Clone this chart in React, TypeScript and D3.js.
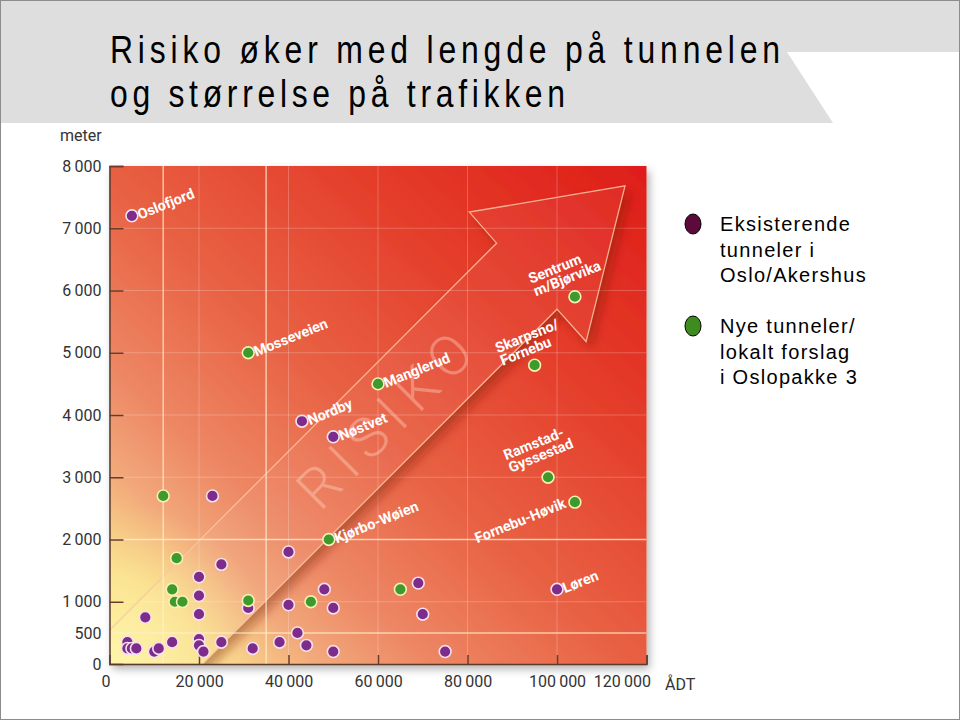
import { useEffect, useRef } from 'react'
import * as d3 from 'd3'

// ÅDT (vehicles/day) and tunnel length (m)
const xTicks = [0, 20000, 40000, 60000, 80000, 100000, 120000]
const yTicks = [0, 500, 1000, 2000, 3000, 4000, 5000, 6000, 7000, 8000]

const existingAdt = [5000, 43000, 50000, 100000, 23000, 25000, 40000, 20000, 20000, 20000, 8000, 31000, 40000, 48000, 50000, 69000, 70000, 42000, 4000, 4000, 5000, 6000, 10000, 11000, 14000, 20000, 20000, 21000, 25000, 32000, 38000, 44000, 50000, 75000]
const existingLength = [7200, 3900, 3650, 1200, 2700, 1600, 1800, 1400, 1100, 800, 750, 900, 950, 1200, 900, 1300, 800, 500, 350, 250, 250, 250, 200, 250, 350, 400, 300, 200, 350, 250, 350, 300, 200, 200]
const existingNames = ['Oslofjord', 'Nordby', 'Nøstvet', 'Løren']

const newAdt = [31000, 60000, 49000, 104000, 95000, 98000, 104000, 12000, 15000, 14000, 14600, 16300, 31000, 45000, 65000]
const newLength = [5000, 4500, 2000, 5900, 4800, 3000, 2600, 2700, 1700, 1200, 1000, 1000, 1020, 1000, 1200]
const newNames = ['Mosseveien', 'Manglerud', 'Kjørbo-Wøien', 'Sentrum\nm/Bjørvika', 'Skarpsno/\nFornebu', 'Ramstad-\nGyssestad', 'Fornebu-Høvik']

// risk arrow outline, in data units
const arrowAdt = [0, 20800, 100000, 106500, 115200, 80400, 86500, 0]
const arrowLength = [0, 0, 5700, 5180, 7680, 7260, 6760, 540]

const guideAdt = [12000, 35000]
const guideLength = [500, 2000]

const legendItems = [
  { color: '#5c0a3c', lines: ['Eksisterende', 'tunneler i', 'Oslo/Akershus'] },
  { color: '#3e8c1f', lines: ['Nye tunneler/', 'lokalt forslag', 'i Oslopakke 3'] }
]

// label placement relative to the point (pixels)
const labelPos: Record<string, { dx: number; dy: number; anchor?: string }> = {
  'Oslofjord': { dx: 8, dy: 4 },
  'Nordby': { dx: 8, dy: 4 },
  'Nøstvet': { dx: 8, dy: 4 },
  'Løren': { dx: 8, dy: 4 },
  'Mosseveien': { dx: 8, dy: 4 },
  'Manglerud': { dx: 8, dy: 4 },
  'Kjørbo-Wøien': { dx: 8, dy: 4 },
  'Fornebu-Høvik': { dx: -8, dy: 5, anchor: 'end' },
  'Sentrum\nm/Bjørvika': { dx: -44, dy: -13 },
  'Skarpsno/\nFornebu': { dx: -37, dy: -12 },
  'Ramstad-\nGyssestad': { dx: -42, dy: -17 }
}

const fmt = d3.formatLocale({ decimal: ',', thousands: '\u2009', grouping: [3], currency: ['', ''] }).format(',d')

const x = d3.scaleLinear().domain([0, 120000]).range([109.5, 646.5])
const y = d3.scaleLinear().domain([0, 8000]).range([664, 166])

export default function App() {
  const xAxisRef = useRef<SVGGElement>(null)
  const yAxisRef = useRef<SVGGElement>(null)

  useEffect(() => {
    if (!xAxisRef.current || !yAxisRef.current) return
    const tickFont = 'Roboto, "DejaVu Sans", sans-serif'

    const ya = d3.select(yAxisRef.current)
    ya.selectAll('*').remove()
    ya.attr('transform', `translate(${x(0)},0)`)
      .call(d3.axisLeft(y).tickValues(yTicks).tickFormat(d => fmt(+d)).tickSize(-14).tickPadding(8))
    ya.select('.domain').attr('stroke', '#5b3a2c').attr('stroke-width', 1.5)
    ya.selectAll('.tick line')
      .attr('stroke', '#6b3a2a')
      .attr('stroke-width', 1.5)
      .attr('opacity', d => (+d! % 1000 === 0 && +d! > 0 ? 1 : 0))
    ya.selectAll('.tick text')
      .style('font-family', tickFont)
      .style('font-size', '16px')
      .attr('fill', '#333')

    const xa = d3.select(xAxisRef.current)
    xa.selectAll('*').remove()
    xa.attr('transform', `translate(0,${y(0)})`)
      .call(d3.axisBottom(x).tickValues(xTicks).tickFormat(d => fmt(+d)).tickSize(-9).tickPadding(12))
    xa.select('.domain').attr('stroke', '#5b3a2c').attr('stroke-width', 1.5)
    xa.selectAll('.tick line')
      .attr('stroke', '#6b3a2a')
      .attr('stroke-width', 1.5)
      .attr('opacity', d => (+d! > 0 ? 1 : 0))
    xa.selectAll('.tick text')
      .style('font-family', tickFont)
      .style('font-size', '16px')
      .attr('fill', '#333')
      .attr('text-anchor', d => (+d! === 120000 ? 'end' : 'middle'))
      .attr('dx', d => (+d! === 120000 ? 4 : +d! === 0 ? -4 : 0))
  }, [])

  const x0 = x(0), x1 = x(120000), y0 = y(0), y1 = y(8000)
  const arrowPts = arrowAdt.map((a, i) => `${x(a)},${y(arrowLength[i])}`).join(' ')

  const existing = existingAdt.map((a, i) => ({ a, l: existingLength[i], name: existingNames[i] }))
  const added = newAdt.map((a, i) => ({ a, l: newLength[i], name: newNames[i] }))
  const labelled = [...existing, ...added].filter(d => d.name)

  const titleFont = "'Liberation Sans', Arial, sans-serif"

  return (
    <svg width={960} height={720} style={{ position: 'absolute', left: 0, top: 0, background: '#fff' }}
      fontFamily="'Liberation Sans', Arial, sans-serif">
      <defs>
        <linearGradient id="bg" x1="0" y1="1" x2="1" y2="0">
          <stop offset="0" stopColor="#fdf3a2" />
          <stop offset="0.1" stopColor="#f9d98b" />
          <stop offset="0.2" stopColor="#f2a87a" />
          <stop offset="0.3" stopColor="#ed8764" />
          <stop offset="0.48" stopColor="#e86244" />
          <stop offset="0.72" stopColor="#e43e2b" />
          <stop offset="1" stopColor="#df1d19" />
        </linearGradient>
        <radialGradient id="glow" cx={x0} cy={y0} r={165} gradientUnits="userSpaceOnUse">
          <stop offset="0" stopColor="#fff6a6" stopOpacity="1" />
          <stop offset="0.55" stopColor="#fbe794" stopOpacity="0.7" />
          <stop offset="1" stopColor="#f6c98a" stopOpacity="0" />
        </radialGradient>
        <clipPath id="plot">
          <rect x={x0} y={y1} width={x1 - x0} height={y0 - y1} />
        </clipPath>
        <mask id="outsideArrow">
          <rect x={0} y={0} width={960} height={720} fill="#fff" />
          <polygon points={arrowPts} fill="#000" />
        </mask>
        <filter id="blur" x="-20%" y="-20%" width="140%" height="140%">
          <feGaussianBlur stdDeviation="5" />
        </filter>
        <filter id="plotShadow" x="-5%" y="-5%" width="115%" height="115%">
          <feDropShadow dx="3" dy="5" stdDeviation="4" floodColor="#000" floodOpacity="0.3" />
        </filter>
      </defs>

      <rect x={0.5} y={0.5} width={959} height={719} fill="#fff" stroke="#8c8c8c" />
      <polygon points="1,1 959,1 959,52 787,52 833,123 1,123" fill="#dedede" />
      <g transform="translate(110,63) scale(0.84,1)">
        <text x={0} y={0} fontSize={38} textLength={670 / 0.84} lengthAdjust="spacing" fontFamily={titleFont} fill="#000">
          Risiko øker med lengde på tunnelen
        </text>
      </g>
      <g transform="translate(110,107) scale(0.84,1)">
        <text x={0} y={0} fontSize={38} textLength={455 / 0.84} lengthAdjust="spacing" fontFamily={titleFont} fill="#000">
          og størrelse på trafikken
        </text>
      </g>

      <text x={60} y={141} fontSize={16} fill="#333" fontFamily="Roboto, 'DejaVu Sans', sans-serif">meter</text>

      <rect x={x0} y={y1} width={x1 - x0} height={y0 - y1} fill="url(#bg)" filter="url(#plotShadow)" />
      <g clipPath="url(#plot)">
        <rect x={x0} y={y1} width={x1 - x0} height={y0 - y1} fill="url(#glow)" />

        {yTicks.filter(t => t % 1000 === 0 && t > 0 && t < 8000).map(t => (
          <line key={'gy' + t} x1={x0} x2={x1} y1={y(t)} y2={y(t)} stroke="#fff" strokeOpacity={0.22} />
        ))}
        {xTicks.filter(t => t > 0 && t < 120000).map(t => (
          <line key={'gx' + t} x1={x(t)} x2={x(t)} y1={y1} y2={y0} stroke="#fff" strokeOpacity={0.22} />
        ))}

        <g mask="url(#outsideArrow)">
          <polygon points={arrowPts} fill="#7a1408" fillOpacity={0.4} transform="translate(6,6)" filter="url(#blur)" />
        </g>
        <polygon points={arrowPts} fill="#fff" fillOpacity={0.05} stroke="#fbc5a5" strokeWidth={1.3} strokeOpacity={0.85} />

        {guideLength.map(t => (
          <line key={'bl' + t} x1={x0} x2={x1} y1={y(t)} y2={y(t)} stroke="#fdf0d0" strokeOpacity={0.7} strokeWidth={1.5} />
        ))}
        {guideAdt.map(t => (
          <line key={'ba' + t} x1={x(t)} x2={x(t)} y1={y1} y2={y0} stroke="#fdf0d0" strokeOpacity={0.7} strokeWidth={1.5} />
        ))}

        <text transform={`translate(${x(62500)},${y(3950)}) rotate(-45)`} textAnchor="middle" dy={18}
          fontSize={56} letterSpacing={10} fontWeight={300}
          fontFamily="Roboto, 'DejaVu Sans', sans-serif" fill="#ffe4d4" fillOpacity={0.35}>
          RISIKO
        </text>
      </g>

      <g ref={yAxisRef} />
      <g ref={xAxisRef} />
      <text x={665} y={690} fontSize={16} fill="#333" fontFamily="Roboto, 'DejaVu Sans', sans-serif">ÅDT</text>

      {existing.map((d, i) => (
        <circle key={'e' + i} cx={x(d.a)} cy={y(d.l)} r={5.9} fill="#7d2c8c" stroke="#f6e0ee" strokeWidth={1.6} />
      ))}
      {added.map((d, i) => (
        <circle key={'n' + i} cx={x(d.a)} cy={y(d.l)} r={5.9} fill="#3f9a2c" stroke="#f4f0b8" strokeWidth={1.6} />
      ))}

      {labelled.map(d => {
        const p = labelPos[d.name!]
        const lines = d.name!.split('\n')
        return (
          <text key={d.name} transform={`translate(${x(d.a) + p.dx},${y(d.l) + p.dy}) rotate(-22)`}
            textAnchor={p.anchor ?? 'start'} fontSize={14.5} fontWeight={700} fill="#fff"
            fontFamily="Roboto, 'DejaVu Sans', sans-serif">
            {lines.map((ln, k) => (
              <tspan key={k} x={0} dy={k === 0 ? 0 : 13.5}>{ln}</tspan>
            ))}
          </text>
        )
      })}

      {legendItems.map((it, i) => (
        <g key={i} transform={`translate(0,${i * 102})`}>
          <ellipse cx={693} cy={224} rx={8} ry={10} fill={it.color} stroke="#000" strokeWidth={1} />
          {it.lines.map((ln, k) => (
            <text key={k} x={720} y={231 + k * 25.5} fontSize={20} letterSpacing={1.3} fill="#000">{ln}</text>
          ))}
        </g>
      ))}
    </svg>
  )
}
